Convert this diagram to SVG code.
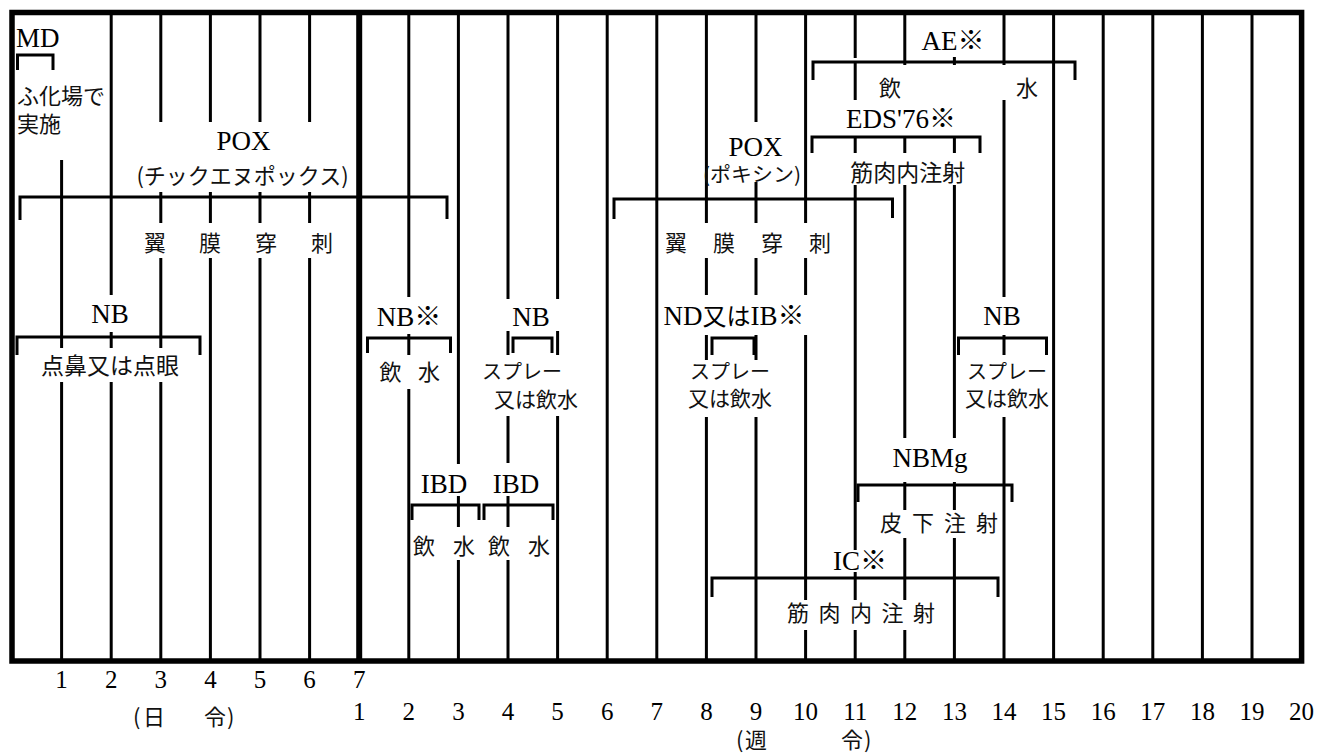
<svg xmlns="http://www.w3.org/2000/svg" width="1317" height="754" viewBox="0 0 1317 754">
<style>
.grid{stroke:#000;stroke-width:3;fill:none}
.thick{stroke:#000;stroke-width:6;fill:none}
.frame{stroke:#000;stroke-width:5.5;fill:none}
.br{stroke:#000;stroke-width:3;fill:none;stroke-linejoin:miter}
.lat{font-family:"Liberation Serif","Noto Sans CJK JP",serif;font-size:27px;fill:#000}
.jp{font-family:"Noto Sans CJK JP",sans-serif;font-size:22px;fill:#111}
.num{font-family:"Liberation Serif",serif;font-size:25px;fill:#000;text-anchor:middle}
.m{text-anchor:middle}
</style>
<rect width="1317" height="754" fill="#fff"/>
<g id="grid">
<path class="grid" d="M61.6 160V348M61.6 382V661
M111.2 12V295M111.2 332V348M111.2 382V661
M160.8 12V122M160.8 192V223M160.8 258V348M160.8 382V661
M210.4 12V122M210.4 192V223M210.4 258V661
M260 12V122M260 192V223M260 258V661
M309.6 12V122M309.6 192V223M309.6 258V661
M408.8 12V297M408.8 334V355M408.8 389V661
M458.4 12V464M458.4 496V527M458.4 560V661
M508 12V299M508 331V355M508 416V463M508 496V527M508 560V661
M557.6 12V299M557.6 331V355M557.6 416V661
M607.2 12V661
M656.8 12V661
M706.4 12V223M706.4 258V295M706.4 335V360M706.4 417V661
M756 12V122M756 182V223M756 258V295M756 335V360M756 417V661
M805.6 12V223M805.6 258V295M805.6 335V600M805.6 630V661
M855.2 12V58M855.2 62V100M855.2 137V153M855.2 185V550M855.2 572V600M855.2 630V661
M904.8 12V65M904.8 137V153M904.8 185V438M904.8 482V510M904.8 538V600M904.8 630V661
M954.4 57V65M954.4 137V153M954.4 185V438M954.4 482V510M954.4 538V661
M1004 12V65M1004 100V297M1004 335V355M1004 417V661
M1053.6 12V661M1103.2 12V661M1152.8 12V661M1202.4 12V661M1252 12V661"/>
<path class="thick" d="M359.2 12V661"/>
<rect class="frame" x="12" y="12.5" width="1289.6" height="648.5"/>
</g>
<g id="axis">
<text class="num" y="688"><tspan x="61.6">1</tspan><tspan x="111.2">2</tspan><tspan x="160.8">3</tspan><tspan x="210.4">4</tspan><tspan x="260">5</tspan><tspan x="309.6">6</tspan><tspan x="359.2">7</tspan></text>
<text class="num" y="720"><tspan x="359.2">1</tspan><tspan x="408.8">2</tspan><tspan x="458.4">3</tspan><tspan x="508">4</tspan><tspan x="557.6">5</tspan><tspan x="607.2">6</tspan><tspan x="656.8">7</tspan><tspan x="706.4">8</tspan><tspan x="756">9</tspan><tspan x="805.6">10</tspan><tspan x="855.2">11</tspan><tspan x="904.8">12</tspan><tspan x="954.4">13</tspan><tspan x="1004">14</tspan><tspan x="1053.6">15</tspan><tspan x="1103.2">16</tspan><tspan x="1152.8">17</tspan><tspan x="1202.4">18</tspan><tspan x="1252">19</tspan><tspan x="1301.6">20</tspan></text>
<text class="jp" y="725"><tspan x="133">(</tspan><tspan x="143">日</tspan><tspan x="204">令</tspan><tspan x="227">)</tspan></text>
<text class="jp" y="748"><tspan x="736">(</tspan><tspan x="745">週</tspan><tspan x="841">令</tspan><tspan x="864">)</tspan></text>
</g>
<g id="md">
<text class="lat" x="16" y="47">MD</text>
<path class="br" d="M17.5 70V55H53V70"/>
<text class="jp" x="17" y="104">ふ化場で</text>
<text class="jp" x="17" y="132">実施</text>
</g>
<g id="pox-day">
<text class="lat m" x="243.5" y="150">POX</text>
<text class="jp m" x="242.5" y="184">(チックエヌポックス)</text>
<path class="br" d="M20 220V197H447V219"/>
<text class="jp m" y="251"><tspan x="155">翼</tspan><tspan x="210">膜</tspan><tspan x="266">穿</tspan><tspan x="322">刺</tspan></text>
</g>
<g id="nb-day">
<text class="lat m" x="110" y="323">NB</text>
<path class="br" d="M17 355V337H200V355"/>
<text class="jp m" x="110" y="374" style="font-size:23px">点鼻又は点眼</text>
</g>
<g id="nb-w1">
<text class="lat m" x="409" y="326">NB※</text>
<path class="br" d="M367.5 353V338H450.5V353"/>
<text class="jp m" y="380"><tspan x="390.5">飲</tspan><tspan x="429">水</tspan></text>
</g>
<g id="nb-w4">
<text class="lat m" x="531" y="326">NB</text>
<path class="br" d="M513 353V338H552V353"/>
<text class="jp m" x="522" y="379" style="font-size:20px">スプレー</text>
<text class="jp m" x="536" y="407" style="font-size:21px">又は飲水</text>
</g>
<g id="ibd-1">
<text class="lat m" x="444" y="493">IBD</text>
<path class="br" d="M412 520V505H479V520"/>
<text class="jp m" y="554"><tspan x="424">飲</tspan><tspan x="464">水</tspan></text>
</g>
<g id="ibd-2">
<text class="lat m" x="516" y="493">IBD</text>
<path class="br" d="M484 520V505H553V520"/>
<text class="jp m" y="554"><tspan x="499">飲</tspan><tspan x="539">水</tspan></text>
</g>
<g id="pox-week">
<text class="lat m" x="755.4" y="156">POX</text>
<text class="jp m" x="752" y="182" style="font-size:20px" textLength="98" lengthAdjust="spacingAndGlyphs">(ポキシン)</text>
<path class="br" d="M614 219V199H892.5V218"/>
<text class="jp m" y="251"><tspan x="676">翼</tspan><tspan x="724">膜</tspan><tspan x="772">穿</tspan><tspan x="820">刺</tspan></text>
</g>
<g id="nd-ib">
<text class="lat m" x="734" y="325">ND<tspan style="font-size:24px">又は</tspan>IB※</text>
<path class="br" d="M712 355V338H754V355"/>
<text class="jp m" x="730" y="379" style="font-size:20px">スプレー</text>
<text class="jp m" x="730" y="406" style="font-size:21px">又は飲水</text>
</g>
<g id="nb-w12">
<text class="lat m" x="1002" y="325">NB</text>
<path class="br" d="M958.5 355V338H1046.5V355"/>
<text class="jp m" x="1007" y="379" style="font-size:20px">スプレー</text>
<text class="jp m" x="1007" y="406" style="font-size:21px">又は飲水</text>
</g>
<g id="ae">
<text class="lat m" x="953" y="50">AE※</text>
<path class="br" d="M813 80V62H1075V80"/>
<text class="jp m" y="96"><tspan x="890">飲</tspan><tspan x="1027">水</tspan></text>
</g>
<g id="eds">
<text class="lat m" x="901" y="128">EDS'76※</text>
<path class="br" d="M812 153V137H980V153"/>
<text class="jp m" x="907.7" y="181" style="font-size:23px">筋肉内注射</text>
</g>
<g id="nbmg">
<text class="lat m" x="930" y="467">NBMg</text>
<path class="br" d="M858 502V485H1012V502"/>
<text class="jp m" y="531"><tspan x="891">皮</tspan><tspan x="923">下</tspan><tspan x="955">注</tspan><tspan x="987">射</tspan></text>
</g>
<g id="ic">
<text class="lat m" x="860" y="570">IC※</text>
<path class="br" d="M712 597V578H998V597"/>
<text class="jp m" y="621"><tspan x="798">筋</tspan><tspan x="829.5">肉</tspan><tspan x="861">内</tspan><tspan x="892.5">注</tspan><tspan x="924">射</tspan></text>
</g>
</svg>
